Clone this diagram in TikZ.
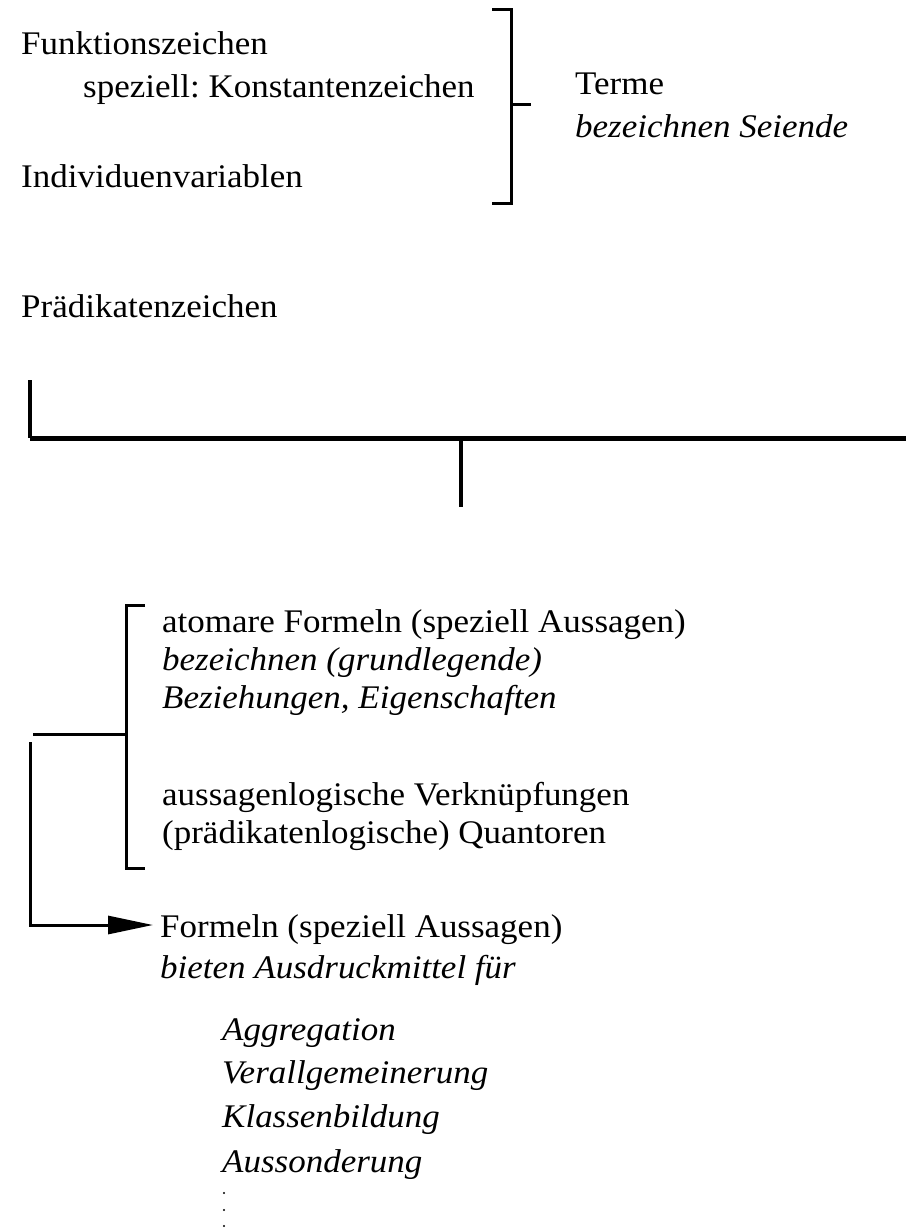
\documentclass[tikz,border=0pt]{standalone}
\usepackage{fontspec}
\setmainfont{Liberation Serif}[FakeStretch=1.06]
\usetikzlibrary{arrows.meta}
\frenchspacing
\begin{document}
\begin{tikzpicture}[x=1pt,y=-1pt,
  txt/.style={anchor=base west,inner sep=0pt,font=\fontsize{33}{40}\selectfont},
  itxt/.style={txt,font=\fontsize{33}{40}\selectfont\itshape},
  brack/.style={line width=3pt,line cap=butt,line join=miter},
  bar/.style={line width=5pt},
  stem/.style={line width=4pt}]
\useasboundingbox (0,0) rectangle (906,1228);

% signs of the language
\node[txt] (fz) at (21,55) {Funktionszeichen};
\node[txt] (kz) at (83,98) {speziell: Konstantenzeichen};
\node[txt] (iv) at (21,187) {Individuenvariablen};
\node[txt] (te) at (575,95) {Terme};
\node[itxt] (ts) at (575,137) {bezeichnen Seiende};
\node[txt] (pz) at (21,317) {Prädikatenzeichen};

% bracket collecting the term building blocks
\coordinate (b1t) at (492,10);
\coordinate (b1b) at (492,203);
\coordinate (b1m) at (511,105);
\coordinate (b1o) at (531,105);
\draw[brack] (b1t) -- (511,10) -- (511,203) -- (b1b);
\draw[brack] (b1m) -- (b1o);

% junction bar
\coordinate (jl) at (30,380);
\coordinate (jc) at (30,438);
\coordinate (jr) at (906,438);
\coordinate (jm) at (461,438);
\coordinate (jd) at (461,507);
\draw[stem] (jl) -- (jc);
\draw[bar] (jc) -- (jr);
\draw[stem] (jm) -- (jd);

% formula building blocks
\node[txt] (af) at (162,632) {atomare Formeln (speziell Aussagen)};
\node[itxt] (ag) at (162,670) {bezeichnen (grundlegende)};
\node[itxt] (ab) at (162,708) {Beziehungen, Eigenschaften};
\node[txt] (av) at (162,805) {aussagenlogische Verknüpfungen};
\node[txt] (aq) at (162,843) {(prädikatenlogische) Quantoren};

\coordinate (b2t) at (145,605);
\coordinate (b2b) at (145,868);
\coordinate (b2m) at (126,734);
\coordinate (b2o) at (33,734);
\draw[brack] (b2t) -- (126,605) -- (126,868) -- (b2b);
\draw[brack] (b2m) -- (b2o);

% resulting formulas
\node[txt] (fo) at (160,937) {Formeln (speziell Aussagen)};
\node[itxt] (fb) at (160,978) {bieten Ausdruckmittel für};
\node[itxt] (f1) at (222,1040) {Aggregation};
\node[itxt] (f2) at (222,1083) {Verallgemeinerung};
\node[itxt] (f3) at (222,1127) {Klassenbildung};
\node[itxt] (f4) at (222,1172) {Aussonderung};

\coordinate (as) at (30,742);
\coordinate (ac) at (30,925);
\coordinate (at) at (153,925);
\draw[brack,-{Triangle[length=45pt,width=18pt]}] (as) -- (ac) -- (at);

% continuation dots
\foreach \yy in {1193,1210,1226}
  \fill (224,\yy) circle (1.1pt);
\end{tikzpicture}
\end{document}
